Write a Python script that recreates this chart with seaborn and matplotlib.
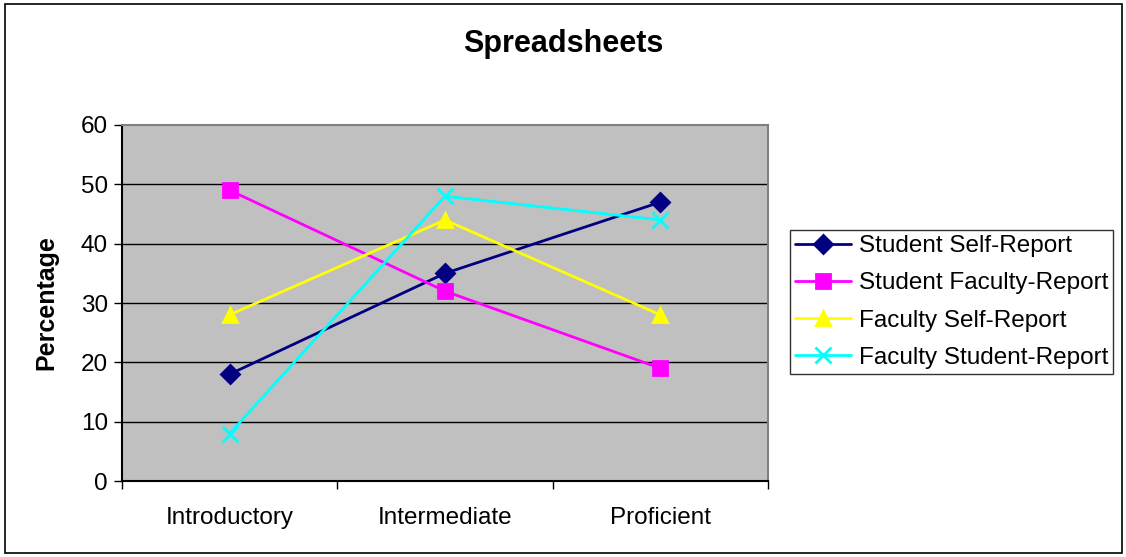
import matplotlib
matplotlib.use("Agg")
import matplotlib.pyplot as plt
from matplotlib.patches import Rectangle
import seaborn as sns
import pandas as pd

levels = ["Introductory", "Intermediate", "Proficient"]
series_names = ["Student Self-Report", "Student Faculty-Report",
                "Faculty Self-Report", "Faculty Student-Report"]
student_self = [18, 35, 47]
student_faculty = [49, 32, 19]
faculty_self = [28, 44, 28]
faculty_student = [8, 48, 44]
y_ticks = [0, 10, 20, 30, 40, 50, 60]

colors = ["#000080", "#FF00FF", "#FFFF00", "#00FFFF"]
markers = ["D", "s", "^", "x"]
marker_sizes = [9, 10, 10, 11]

series_values = [student_self, student_faculty, faculty_self, faculty_student]

sns.set_style("white")
plt.rcParams["font.family"] = ["Liberation Sans", "DejaVu Sans"]
plt.rcParams["text.color"] = "black"
plt.rcParams["axes.labelcolor"] = "black"
plt.rcParams["xtick.color"] = "black"
plt.rcParams["ytick.color"] = "black"

fig = plt.figure(figsize=(11.26, 5.57), dpi=100)
ax = fig.add_axes([122 / 1126, 76 / 557, 646 / 1126, 356 / 557])
ax.set_facecolor("#C0C0C0")

for name, vals, c, m, ms in zip(series_names, series_values, colors, markers,
                                marker_sizes):
    df = pd.DataFrame({"Level": range(len(levels)), "Percentage": vals})
    sns.lineplot(data=df, x="Level", y="Percentage", color=c, marker=m,
                 markersize=ms, markeredgecolor=c, markerfacecolor=c,
                 markeredgewidth=2, linewidth=2, label=name, ax=ax, zorder=3)

ax.set_xlim(-0.5, 2.5)
ax.set_ylim(0, 60)
ax.set_yticks(y_ticks)
ax.set_xticks(range(len(levels)))
ax.set_xticklabels(levels)
ax.set_xticks([-0.5, 0.5, 1.5, 2.5], minor=True)
ax.tick_params(axis="x", which="major", length=0, pad=19, labelsize=17.5,
               labelcolor="black")
ax.tick_params(axis="x", which="minor", length=6, width=1, color="black",
               direction="out", bottom=True)
ax.tick_params(axis="y", length=6, width=1, color="black", direction="out",
               left=True, labelsize=17.5, pad=4, labelcolor="black")

for y in y_ticks[1:-1]:
    ax.axhline(y, color="black", linewidth=1, zorder=1)

for side in ["top", "right"]:
    ax.spines[side].set_color("#808080")
    ax.spines[side].set_linewidth(1.5)
for side in ["left", "bottom"]:
    ax.spines[side].set_color("black")
    ax.spines[side].set_linewidth(1.5)

ax.set_xlabel("")
ax.set_ylabel("Percentage", fontsize=18, fontweight="bold", labelpad=16,
              color="black")
fig.text(0.5, 1 - 44 / 557, "Spreadsheets", ha="center", va="center",
         fontsize=22, fontweight="bold", color="black")

handles, labels = ax.get_legend_handles_labels()
leg = ax.legend(handles, labels, loc="center left",
                bbox_to_anchor=(790 / 1126, 1 - 302 / 557),
                bbox_transform=fig.transFigure,
                fontsize=17.5, frameon=True, fancybox=False, edgecolor="black",
                handlelength=2.3, handletextpad=0.3, borderpad=0.22,
                labelspacing=0.62, borderaxespad=0)
leg.get_frame().set_linewidth(1)
for t in leg.get_texts():
    t.set_color("black")

fig.patches.append(Rectangle((5 / 1126, 4 / 557), 1117 / 1126, 549 / 557,
                             transform=fig.transFigure, fill=False,
                             edgecolor="black", linewidth=1.2))

fig.savefig("out.png", dpi=100)
